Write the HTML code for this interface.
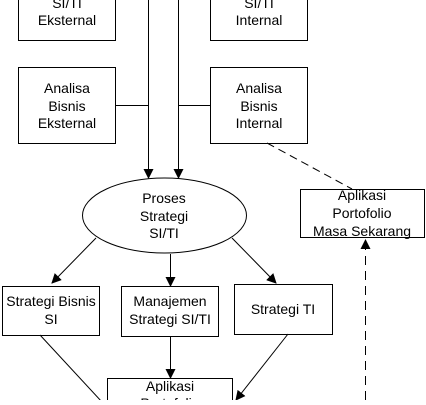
<!DOCTYPE html>
<html><head><style>body{margin:0;background:#fff;}svg text{font-family:"Liberation Sans",sans-serif;font-size:14px;fill:#000;text-anchor:middle;}</style></head>
<body><svg width="426" height="400" viewBox="0 0 426 400" xmlns="http://www.w3.org/2000/svg">
<defs><marker id="a" markerWidth="10" markerHeight="10" refX="9" refY="5" orient="auto" markerUnits="userSpaceOnUse"><path d="M0,0 L10,5 L0,10 z" fill="#000"/></marker></defs>
<g fill="none" stroke="#000" stroke-width="1">
<rect x="18.5" y="-20" width="97" height="60.5"/>
<rect x="210.5" y="-20" width="97" height="60.5"/>
<rect x="18.5" y="67.5" width="97" height="76"/>
<rect x="210.5" y="67.5" width="97" height="76"/>
<line x1="148.5" y1="0" x2="148.5" y2="178" marker-end="url(#a)"/>
<line x1="178.5" y1="0" x2="178.5" y2="178" marker-end="url(#a)"/>
<line x1="115" y1="105.5" x2="148.5" y2="105.5"/>
<line x1="178.5" y1="105.5" x2="210" y2="105.5"/>
<ellipse cx="164.5" cy="215.5" rx="82" ry="37.5"/>
<rect x="300.5" y="189.5" width="124" height="48"/>
<line x1="267" y1="143" x2="352" y2="189" stroke-dasharray="8,5"/>
<line x1="365.5" y1="400" x2="365.5" y2="240" stroke-dasharray="9,6" marker-end="url(#a)"/>
<rect x="2.5" y="286.5" width="97" height="49"/>
<rect x="121.5" y="286.5" width="97" height="50"/>
<rect x="234.5" y="284.5" width="98" height="50"/>
<line x1="96" y1="238" x2="52" y2="283" marker-end="url(#a)"/>
<line x1="170.5" y1="254" x2="170.5" y2="286" marker-end="url(#a)"/>
<line x1="232" y1="238" x2="276" y2="283" marker-end="url(#a)"/>
<line x1="170.5" y1="336" x2="170.5" y2="378" marker-end="url(#a)"/>
<rect x="107.5" y="378.5" width="125" height="40"/>
<line x1="40" y1="335" x2="102" y2="402"/>
<line x1="288" y1="334" x2="236" y2="400" marker-end="url(#a)"/>
</g>
<text x="67" y="8">SI/TI</text><text x="67" y="25">Eksternal</text>
<text x="259" y="8">SI/TI</text><text x="259" y="25">Internal</text>
<text x="67" y="93">Analisa</text><text x="67" y="111">Bisnis</text><text x="67" y="128">Eksternal</text>
<text x="259" y="93">Analisa</text><text x="259" y="111">Bisnis</text><text x="259" y="128">Internal</text>
<text x="164" y="203">Proses</text><text x="164" y="221">Strategi</text><text x="164" y="238">SI/TI</text>
<text x="362" y="200">Aplikasi</text><text x="362" y="218">Portofolio</text><text x="362" y="236">Masa Sekarang</text>
<text x="51" y="306">Strategi Bisnis</text><text x="51" y="324">SI</text>
<text x="170" y="306">Manajemen</text><text x="170" y="324">Strategi SI/TI</text>
<text x="283" y="314">Strategi TI</text>
<text x="170" y="391">Aplikasi</text><text x="170" y="408">Portofolio</text>
</svg></body></html>
